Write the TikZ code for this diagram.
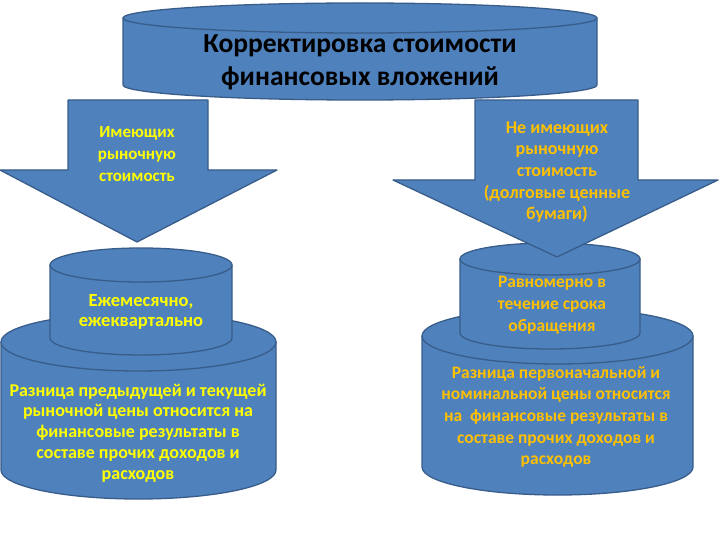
\documentclass[tikz,border=0pt]{standalone}
\usepackage{fontspec}
\setmainfont{Carlito}
\definecolor{fillb}{HTML}{4F81BD}
\definecolor{lineb}{HTML}{385D8A}
\definecolor{txtl}{HTML}{FFFF00}
\definecolor{txtr}{HTML}{FFC000}
\tikzset{
  shp/.style={fill=fillb,draw=lineb,line width=1.3pt,line join=round},
  ttl/.style={align=center,font=\bfseries\fontsize{27.5}{33}\selectfont,text=black},
  lt/.style={align=center,text=txtl},
  rt/.style={align=center,text=txtr},
}
% cylinder: cx, top cy, bottom cy, rx, ry
\newcommand{\mycyl}[5]{%
  \path[shp] (#1-#4,#2) -- (#1-#4,#3) arc[start angle=180,end angle=0,x radius=#4,y radius=#5] -- (#1+#4,#2) -- cycle;
  \path[shp] (#1,#2) ellipse[x radius=#4,y radius=#5];
}
\begin{document}
\begin{tikzpicture}[x=1pt,y=-1pt]
\useasboundingbox[fill=white] (0,0) rectangle (720,540);
% top cylinder
\mycyl{360}{18}{85}{237}{15}
\node[ttl] (title) at (360,62) {Корректировка стоимости\\финансовых вложений};
% left cylinders
\mycyl{138.5}{342}{470}{137.5}{29}
\mycyl{141}{265}{338}{91}{17}
% right cylinders
\mycyl{557.5}{336}{467}{135.5}{28}
\mycyl{550}{259}{333}{90}{16}
% arrows
\path[shp] (68,100) -- (208,100) -- (208,170) -- (277,170) -- (137,242) -- (0,170) -- (68,170) -- cycle;
\path[shp] (475,100) -- (638,100) -- (638,180) -- (718,180) -- (557,257) -- (393,180) -- (475,180) -- cycle;
% texts
\node[lt,font=\bfseries\fontsize{17}{22}\selectfont] (a1) at (137,154) {Имеющих\\рыночную\\стоимость};
\node[rt,font=\bfseries\fontsize{18}{21.7}\selectfont] (a2) at (557,172) {Не имеющих\\рыночную\\стоимость\\(долговые ценные\\бумаги)};
\node[lt,font=\bfseries\fontsize{18.5}{20.5}\selectfont] (s1) at (141,312) {Ежемесячно,\\ежеквартально};
\node[lt,font=\bfseries\fontsize{18}{20.7}\selectfont] (b1) at (138,433) {Разница предыдущей и текущей\\рыночной цены относится на\\финансовые результаты в\\составе прочих доходов и\\расходов};
\node[rt,font=\bfseries\fontsize{17.5}{22}\selectfont] (s2) at (552,305) {Равномерно в\\течение срока\\обращения};
\node[rt,font=\bfseries\fontsize{17.5}{21.7}\selectfont] (b2) at (556,417) {Разница первоначальной и\\номинальной цены относится\\на\ \ финансовые результаты в\\составе прочих доходов и\\расходов};
\end{tikzpicture}
\end{document}
